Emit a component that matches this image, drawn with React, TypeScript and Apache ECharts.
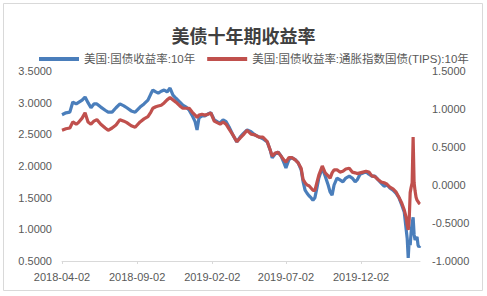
import React, { useEffect, useRef } from "react";
import * as echarts from "echarts";

const dates = [
  "2018-04-02","2018-04-10","2018-04-18","2018-04-24","2018-05-01","2018-05-05","2018-05-13","2018-05-19","2018-05-25","2018-05-31",
  "2018-06-06","2018-06-12","2018-06-20","2018-06-29","2018-07-05","2018-07-13","2018-07-21","2018-07-29","2018-08-06","2018-08-12",
  "2018-08-21","2018-08-29","2018-09-08","2018-09-16","2018-09-24","2018-09-30","2018-10-04","2018-10-10","2018-10-15","2018-10-21",
  "2018-10-27","2018-11-02","2018-11-08","2018-11-14","2018-11-20","2018-11-28","2018-12-04","2018-12-11","2018-12-17","2018-12-23",
  "2018-12-29","2019-01-02","2019-01-06","2019-01-12","2019-01-18","2019-01-24","2019-01-30","2019-02-06","2019-02-12","2019-02-18",
  "2019-02-24","2019-03-02","2019-03-08","2019-03-16","2019-03-24","2019-03-31","2019-04-06","2019-04-14","2019-04-22","2019-04-30",
  "2019-05-08","2019-05-16","2019-05-25","2019-05-31","2019-06-04","2019-06-10","2019-06-16","2019-06-22","2019-06-28","2019-07-02",
  "2019-07-08","2019-07-14","2019-07-21","2019-07-27","2019-08-02","2019-08-06","2019-08-10","2019-08-14","2019-08-18","2019-08-22",
  "2019-08-26","2019-08-30","2019-09-03","2019-09-07","2019-09-14","2019-09-20","2019-09-26","2019-09-30","2019-10-04","2019-10-08",
  "2019-10-14","2019-10-20","2019-10-26","2019-11-01","2019-11-08","2019-11-14","2019-11-20","2019-11-24","2019-11-30","2019-12-06",
  "2019-12-12","2019-12-18","2019-12-24","2019-12-30","2020-01-06","2020-01-12","2020-01-18","2020-01-24","2020-01-30","2020-02-05",
  "2020-02-11","2020-02-17","2020-02-23","2020-02-28","2020-03-03","2020-03-05","2020-03-07","2020-03-09","2020-03-11","2020-03-13",
  "2020-03-15","2020-03-17","2020-03-19","2020-03-21","2020-03-23","2020-03-25","2020-03-27","2020-03-29","2020-03-31"
];

// 美国:国债收益率:10年 (left axis)
const nominal10y = [
  2.81,2.84,2.85,3.01,2.98,3.00,3.04,3.09,3.00,2.92,
  2.98,2.98,2.93,2.88,2.85,2.85,2.92,2.98,2.95,2.92,
  2.87,2.85,2.93,2.98,3.04,3.14,3.20,3.17,3.15,3.18,
  3.20,3.17,3.23,3.12,3.07,3.01,2.96,2.93,2.88,2.80,
  2.70,2.57,2.76,2.79,2.79,2.82,2.84,2.73,2.70,2.68,
  2.73,2.70,2.62,2.49,2.38,2.46,2.51,2.57,2.54,2.49,
  2.46,2.43,2.38,2.25,2.13,2.19,2.22,2.16,2.05,1.97,
  2.10,2.13,2.10,2.05,1.94,1.75,1.62,1.57,1.53,1.50,
  1.46,1.50,1.65,1.81,1.97,1.84,1.70,1.59,1.54,1.70,
  1.81,1.78,1.75,1.81,1.84,1.81,1.75,1.78,1.87,1.89,
  1.91,1.87,1.84,1.84,1.78,1.73,1.68,1.70,1.65,1.62,
  1.57,1.50,1.38,1.27,0.99,0.85,0.55,0.83,0.75,0.96,
  1.10,1.19,0.92,0.83,0.86,0.88,0.75,0.72,0.74
];

// 美国:国债收益率:通胀指数国债(TIPS):10年 (right axis)
const tips10y = [
  0.72,0.74,0.75,0.83,0.80,0.82,0.88,0.95,0.83,0.80,
  0.84,0.86,0.80,0.75,0.72,0.75,0.79,0.86,0.84,0.82,
  0.78,0.76,0.83,0.87,0.90,0.96,1.01,1.03,1.04,1.05,
  1.08,1.12,1.15,1.12,1.09,1.04,1.01,1.01,1.01,0.96,
  0.92,0.89,0.92,0.93,0.92,0.93,0.95,0.84,0.82,0.80,
  0.83,0.80,0.74,0.66,0.57,0.62,0.66,0.72,0.67,0.66,
  0.63,0.63,0.57,0.46,0.38,0.42,0.43,0.38,0.33,0.30,
  0.36,0.36,0.33,0.29,0.22,0.07,0.03,0.00,-0.01,-0.04,
  -0.07,-0.07,0.03,0.13,0.25,0.16,0.12,0.09,0.16,0.20,
  0.20,0.17,0.18,0.21,0.22,0.17,0.16,0.15,0.16,0.17,
  0.18,0.17,0.12,0.11,0.07,0.04,0.03,0.01,-0.03,-0.05,
  -0.09,-0.16,-0.24,-0.33,-0.43,-0.53,-0.59,-0.46,-0.10,-0.03,
  0.03,0.63,0.03,-0.08,-0.16,-0.20,-0.22,-0.24,-0.25
];

const xTickLabels = ["2018-04-02", "2018-09-02", "2019-02-02", "2019-07-02", "2019-12-02"];

const seriesNames = ["美国:国债收益率:10年", "美国:国债收益率:通胀指数国债(TIPS):10年"];
const title = "美债十年期收益率";

const DAY = 86400000;
const base = Date.parse(dates[0] + "T00:00:00Z");
const toOffset = (d: string) => Math.round((Date.parse(d + "T00:00:00Z") - base) / DAY);
const fromOffset = (v: number) => new Date(base + v * DAY).toISOString().slice(0, 10);

export default function App() {
  const ref = useRef<HTMLDivElement>(null);
  useEffect(() => {
    if (!ref.current) return;
    const chart = echarts.init(ref.current, undefined, { renderer: "svg" });
    const xs = dates.map(toOffset);
    const tickVals = xTickLabels.map(toOffset);
    const labelStyle = { color: "#595959", fontSize: 11, fontFamily: "Liberation Sans, Arial, sans-serif" };
    chart.setOption({
      animation: false,
      backgroundColor: "#ffffff",
      title: {
        text: title,
        left: "center",
        top: 21,
        textStyle: { fontSize: 18, fontWeight: "bold", color: "#404040", fontFamily: "Noto Sans CJK SC, sans-serif" },
      },
      graphic: [
        {
          type: "rect",
          shape: { x: 3.5, y: 3.5, width: 479, height: 287 },
          style: { fill: "none", stroke: "#D9D9D9", lineWidth: 1 },
          silent: true,
        },
      ],
      legend: {
        left: 39,
        top: 53,
        width: 446,
        padding: 0,
        orient: "horizontal",
        itemGap: 12,
        itemWidth: 40,
        itemHeight: 4,
        icon: "rect",
        textStyle: {
          color: "#595959",
          fontSize: 11.5,
          lineHeight: 12,
          fontFamily: "Liberation Sans, Noto Sans CJK SC, sans-serif",
        },
        data: seriesNames,
      },
      grid: { left: 62, right: 67, top: 71, bottom: 35, containLabel: false },
      xAxis: {
        type: "value",
        min: 0,
        max: xs[xs.length - 1],
        splitLine: { show: false },
        axisLine: { show: true, onZero: false, lineStyle: { color: "#D9D9D9", width: 1 } },
        axisTick: { show: true, customValues: tickVals, length: 3, lineStyle: { color: "#D9D9D9" } },
        axisLabel: {
          customValues: tickVals,
          formatter: (v: number) => fromOffset(v),
          margin: 10,
          ...labelStyle,
        },
      },
      yAxis: [
        {
          type: "value",
          min: 0.5,
          max: 3.5,
          interval: 0.5,
          splitLine: { show: false },
          axisLine: { show: false },
          axisTick: { show: false },
          axisLabel: { formatter: (v: number) => v.toFixed(4), margin: 10, ...labelStyle },
        },
        {
          type: "value",
          min: -1,
          max: 1.5,
          interval: 0.5,
          position: "right",
          splitLine: { show: false },
          axisLine: { show: false },
          axisTick: { show: false },
          axisLabel: { formatter: (v: number) => v.toFixed(4), margin: 12, ...labelStyle },
        },
      ],
      series: [
        {
          name: seriesNames[0],
          type: "line",
          yAxisIndex: 0,
          showSymbol: false,
          symbol: "none",
          data: xs.map((x, i) => [x, nominal10y[i]]),
          lineStyle: { color: "#4A7EBB", width: 3.2 },
          itemStyle: { color: "#4A7EBB" },
        },
        {
          name: seriesNames[1],
          type: "line",
          yAxisIndex: 1,
          showSymbol: false,
          symbol: "none",
          data: xs.map((x, i) => [x, tips10y[i]]),
          lineStyle: { color: "#C0504D", width: 3.2 },
          itemStyle: { color: "#C0504D" },
        },
      ],
    });
    return () => chart.dispose();
  }, []);
  return <div ref={ref} style={{ position: "fixed", left: 0, top: 0, width: 487, height: 296 }} />;
}
